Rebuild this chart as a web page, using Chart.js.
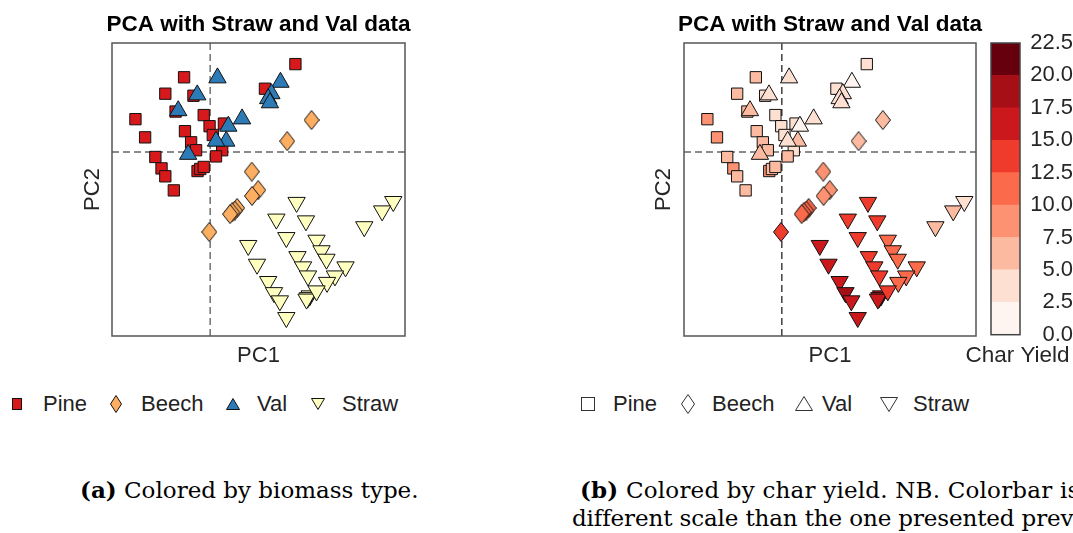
<!DOCTYPE html>
<html>
<head>
<meta charset="utf-8">
<title>PCA with Straw and Val data</title>
<script src="https://cdn.jsdelivr.net/npm/chart.js@4.4.1/dist/chart.umd.min.js"></script>
<style>
  html, body { margin: 0; padding: 0; background: #fff; }
  body { width: 1073px; height: 533px; overflow: hidden; position: relative;
         font-family: "Liberation Sans", Arial, sans-serif; }
  .box { position: absolute; top: 0; height: 380px; }
  .legend { position: absolute; top: 391px; height: 26px; line-height: 26px;
            font-size: 22px; color: #222; white-space: nowrap; }
  .mk { position: absolute; overflow: visible; }
  .cap { position: absolute; font-family: "DejaVu Serif", serif; font-size: 23px;
         line-height: 29px; white-space: nowrap; color: #000; }
</style>
</head>
<body>

<div class="box" style="left:0;width:517px"><canvas id="pcaType"></canvas></div>
<div class="box" style="left:590px;width:480px"><canvas id="pcaYield"></canvas></div>
<div class="box" style="left:962px;width:111px"><canvas id="colorbar"></canvas></div>

<!-- legend, coloured by biomass -->
<svg class="mk" style="left:12px;top:398px" width="10" height="12"><rect x="0.5" y="0.5" width="9" height="11" fill="#d7191c" stroke="#111"/></svg>
<span class="legend" style="left:43px">Pine</span>
<svg class="mk" style="left:110px;top:395px" width="12" height="18"><polygon points="6,0.5 11.5,9 6,17.5 0.5,9" fill="#fdae61" stroke="#111"/></svg>
<span class="legend" style="left:141px">Beech</span>
<svg class="mk" style="left:226px;top:398px" width="14" height="12"><polygon points="7,0.5 13.5,11.5 0.5,11.5" fill="#2c7bb6" stroke="#111"/></svg>
<span class="legend" style="left:257px">Val</span>
<svg class="mk" style="left:311px;top:398px" width="14" height="12"><polygon points="0.5,0.5 13.5,0.5 7,11.5" fill="#ffffbf" stroke="#111"/></svg>
<span class="legend" style="left:342px">Straw</span>

<!-- legend, shapes only -->
<svg class="mk" style="left:581px;top:397px" width="14" height="14"><rect x="0.5" y="0.5" width="13" height="13" fill="none" stroke="#333"/></svg>
<span class="legend" style="left:613px">Pine</span>
<svg class="mk" style="left:681px;top:394px" width="14" height="20"><polygon points="7,0.5 13.5,10 7,19.5 0.5,10" fill="none" stroke="#333"/></svg>
<span class="legend" style="left:712px">Beech</span>
<svg class="mk" style="left:795px;top:396px" width="18" height="15"><polygon points="9,0.5 17.5,14.5 0.5,14.5" fill="none" stroke="#333"/></svg>
<span class="legend" style="left:822px">Val</span>
<svg class="mk" style="left:880px;top:397px" width="18" height="15"><polygon points="0.5,0.5 17.5,0.5 9,14.5" fill="none" stroke="#333"/></svg>
<span class="legend" style="left:913px">Straw</span>

<div class="cap" style="left:80px;top:475px"><b>(a)</b> Colored by biomass type.</div>
<div class="cap" style="left:580px;top:475px;letter-spacing:0.2px"><b>(b)</b> Colored by char yield. NB. Colorbar is on a</div>
<div class="cap" style="left:572px;top:504px;letter-spacing:-0.12px">different scale than the one presented previously.</div>

<script>
// PCA scores per sample, grouped by biomass type, with measured char yield (%)
const pinePC1 = [-0.89, -1.53, -0.57, -1.18, -2.55, -0.22, -0.02, 0.47, -2.22, -0.86, -0.65, -0.48,
                 0.09, 0.41, 0.20, -1.87, -1.66, -1.53, -1.24, -0.43, -0.34, -0.22, 2.91, 1.87];
const pinePC2 = [2.55, 1.99, 1.92, 1.38, 1.12, 1.26, 0.88, 0.97, 0.50, 0.71, 0.33, 0.06,
                 0.58, 0.06, -0.15, -0.17, -0.56, -0.83, -1.31, -0.65, -0.58, -0.51, 3.00, 2.16];
const pineYield = [6.5, 6.5, 4, 6, 9, 3.5, 4, 4, 9, 6, 6, 6.5,
                   4, 3, 6, 6, 9, 6, 6.5, 8.5, 7, 6, 3.5, 4];

const beechPC1 = [3.46, 2.63, 1.42, 1.64, 1.43, 0.92, 0.84, 0.75, 0.68, -0.03];
const beechPC2 = [1.09, 0.37, -0.67, -1.30, -1.50, -1.91, -2.00, -2.06, -2.12, -2.73];
const beechYield = [6.5, 6.5, 9, 9, 8.5, 11, 11, 11, 11, 13.5];

const valPC1 = [0.25, -0.44, -1.09, 1.09, 0.62, 0.55, 0.20, -0.75, 2.40, 2.09, 1.98, 2.04];
const valPC2 = [2.53, 1.95, 1.41, 1.13, 0.88, 0.37, 0.37, -0.08, 2.38, 1.99, 1.82, 1.68];
const valYield = [3, 4, 7, 3.5, 2, 6.5, 4, 6.5, 2, 3.5, 4, 3];

const strawPC1 = [2.95, 6.25, 5.87, 2.26, 3.27, 5.26, 2.60, 3.63, 3.80, 3.97, 2.98, 3.17, 4.62,
                  3.34, 4.26, 3.99, 1.98, 2.18, 2.38, 3.40, 3.34, 3.29, 3.63, 2.60, 1.30, 1.60];
const strawPC2 = [-1.72, -1.69, -2.01, -2.29, -2.35, -2.55, -2.92, -3.01, -3.37, -3.66, -3.57, -3.92, -3.92,
                  -4.23, -4.23, -4.45, -4.42, -4.80, -5.08, -4.91, -4.97, -5.02, -4.74, -5.65, -3.19, -3.83];
const strawYield = [13.5, 3.5, 6, 13.5, 13, 6, 14, 11, 11, 11, 13.5, 14, 11,
                    13.5, 11.5, 11, 16, 18, 16, 16, 15.5, 17, 14, 16, 16, 16];

const pc1Range = [-3.35, 6.65];
const pc2Range = [-6.28, 3.72];

// colour per biomass type
const typeColors = { Pine: '#d7191c', Beech: '#fdae61', Val: '#2c7bb6', Straw: '#ffffbf' };

// char yield colour bins (Reds)
const yieldEdges = [0, 2.5, 5, 7.5, 10, 12.5, 15, 17.5, 20, 22.5];
const yieldColors = ['#fff5f0', '#fee0d2', '#fcbba1', '#fc9272', '#fb6a4a',
                     '#ef3b2c', '#cb181d', '#a50f15', '#67000d'];

Chart.defaults.font.family = "'Liberation Sans', Arial, sans-serif";
Chart.defaults.color = '#262626';

function toPoints(xs, ys) {
  return xs.map((x, i) => ({ x: x, y: ys[i] }));
}

function yieldColor(v) {
  let i = 0;
  while (i < yieldColors.length - 1 && v >= yieldEdges[i + 1]) i++;
  return yieldColors[i];
}

// thin diamond marker (taller than wide), cached per fill colour
const diamondCache = {};
function diamond(fill) {
  if (diamondCache[fill]) return diamondCache[fill];
  const c = document.createElement('canvas');
  c.width = 16; c.height = 20;
  const g = c.getContext('2d');
  g.beginPath();
  g.moveTo(8, 0.5); g.lineTo(15.5, 10); g.lineTo(8, 19.5); g.lineTo(0.5, 10);
  g.closePath();
  g.fillStyle = fill; g.fill();
  g.strokeStyle = '#111'; g.lineWidth = 1; g.stroke();
  diamondCache[fill] = c;
  return c;
}

// dashed zero lines behind the points and a box around the plot area
const frameLines = {
  id: 'frameLines',
  beforeDatasetsDraw(chart, args, opts) {
    if (!opts.zeroLines) return;
    const { ctx, chartArea: a, scales } = chart;
    ctx.save();
    ctx.setLineDash([7, 4]);
    ctx.lineWidth = opts.zeroWidth;
    const x0 = scales.x.getPixelForValue(0);
    ctx.strokeStyle = opts.vColor;
    ctx.beginPath(); ctx.moveTo(x0, a.top); ctx.lineTo(x0, a.bottom); ctx.stroke();
    const y0 = scales.y.getPixelForValue(0);
    ctx.strokeStyle = opts.hColor;
    ctx.beginPath(); ctx.moveTo(a.left, y0); ctx.lineTo(a.right, y0); ctx.stroke();
    ctx.restore();
  },
  afterDraw(chart, args, opts) {
    const { ctx, chartArea: a } = chart;
    ctx.save();
    ctx.strokeStyle = opts.frameColor;
    ctx.lineWidth = 1.5;
    ctx.strokeRect(a.left, a.top, a.right - a.left, a.bottom - a.top);
    ctx.restore();
  }
};

function pcaChart(id, datasets, sideWidth, pc2Pad, vColor) {
  return new Chart(document.getElementById(id), {
    type: 'scatter',
    data: { datasets: datasets },
    plugins: [frameLines],
    options: {
      responsive: true,
      maintainAspectRatio: false,
      animation: false,
      events: [],
      layout: { autoPadding: false },
      plugins: {
        legend: { display: false },
        tooltip: { enabled: false },
        title: {
          display: true,
          text: 'PCA with Straw and Val data',
          color: '#000',
          font: { size: 22.5, weight: 'bold' },
          padding: { top: 11.5, bottom: 4.5 }
        },
        frameLines: { zeroLines: true, zeroWidth: 1.4, vColor: vColor, hColor: '#666', frameColor: '#555' }
      },
      scales: {
        x: {
          type: 'linear', min: pc1Range[0], max: pc1Range[1],
          grid: { display: false }, border: { display: false }, ticks: { display: false },
          title: { display: true, text: 'PC1', font: { size: 22 }, padding: { top: 0, bottom: 10.8 } },
          afterFit(s) { s.height = 44; }
        },
        y: {
          type: 'linear', position: 'left', min: pc2Range[0], max: pc2Range[1],
          grid: { display: false }, border: { display: false }, ticks: { display: false },
          title: { display: true, text: 'PC2', font: { size: 22 }, padding: { top: pc2Pad, bottom: 0 } },
          afterFit(s) { s.width = sideWidth; }
        },
        yr: {
          type: 'linear', position: 'right', display: true,
          grid: { display: false }, border: { display: false }, ticks: { display: false },
          afterFit(s) { s.width = sideWidth; }
        }
      }
    }
  });
}

function marker(style, radius, rotation) {
  return { pointStyle: style, pointRadius: radius, pointRotation: rotation || 0,
           pointBorderColor: '#111', pointBorderWidth: 1, showLine: false };
}

// (a) coloured by biomass type
pcaChart('pcaType', [
  Object.assign({ label: 'Val', order: 0, data: toPoints(valPC1, valPC2),
                  pointBackgroundColor: typeColors.Val }, marker('triangle', 10)),
  Object.assign({ label: 'Pine', order: 1, data: toPoints(pinePC1, pinePC2),
                  pointBackgroundColor: typeColors.Pine }, marker('rect', 8)),
  Object.assign({ label: 'Beech', order: 2, data: toPoints(beechPC1, beechPC2),
                  pointBackgroundColor: typeColors.Beech }, marker(diamond(typeColors.Beech), 9)),
  Object.assign({ label: 'Straw', order: 3, data: toPoints(strawPC1, strawPC2),
                  pointBackgroundColor: typeColors.Straw }, marker('triangle', 10, 180))
], 112, 79.8, '#666');

// (b) coloured by char yield
pcaChart('pcaYield', [
  Object.assign({ label: 'Val', order: 0, data: toPoints(valPC1, valPC2),
                  pointBackgroundColor: valYield.map(yieldColor) }, marker('triangle', 10)),
  Object.assign({ label: 'Pine', order: 1, data: toPoints(pinePC1, pinePC2),
                  pointBackgroundColor: pineYield.map(yieldColor) }, marker('rect', 8)),
  Object.assign({ label: 'Beech', order: 2, data: toPoints(beechPC1, beechPC2) },
                marker(beechYield.map(v => diamond(yieldColor(v))), 9)),
  Object.assign({ label: 'Straw', order: 3, data: toPoints(strawPC1, strawPC2),
                  pointBackgroundColor: strawYield.map(yieldColor) }, marker('triangle', 10, 180))
], 94, 60.8, '#333');

// colour bar for char yield
new Chart(document.getElementById('colorbar'), {
  type: 'bar',
  data: {
    labels: [''],
    datasets: yieldColors.map((c, i) => ({
      data: [yieldEdges[i + 1] - yieldEdges[i]],
      backgroundColor: c, borderWidth: 0,
      barPercentage: 1, categoryPercentage: 1
    }))
  },
  plugins: [frameLines],
  options: {
    responsive: true,
    maintainAspectRatio: false,
    animation: false,
    events: [],
    layout: { padding: { top: 43 }, autoPadding: false },
    plugins: {
      legend: { display: false },
      tooltip: { enabled: false },
      title: {
        display: true, position: 'bottom', text: 'Char Yield',
        font: { size: 22.5, weight: 'normal' }, color: '#262626',
        padding: { top: 8.0, bottom: 10.3 }
      },
      frameLines: { zeroLines: false, frameColor: '#444' }
    },
    scales: {
      x: { display: false, stacked: true },
      y: {
        stacked: true, position: 'right', min: yieldEdges[0], max: yieldEdges[yieldEdges.length - 1],
        grid: { display: false, drawTicks: false }, border: { display: false },
        ticks: { stepSize: 2.5, padding: 2, crossAlign: 'far', font: { size: 22 },
                 callback: v => v.toFixed(1) },
        afterFit(s) { s.width = 53; }
      },
      yl: {
        type: 'linear', position: 'left', display: true,
        grid: { display: false }, border: { display: false }, ticks: { display: false },
        afterFit(s) { s.width = 29; }
      }
    }
  }
});
</script>
</body>
</html>
